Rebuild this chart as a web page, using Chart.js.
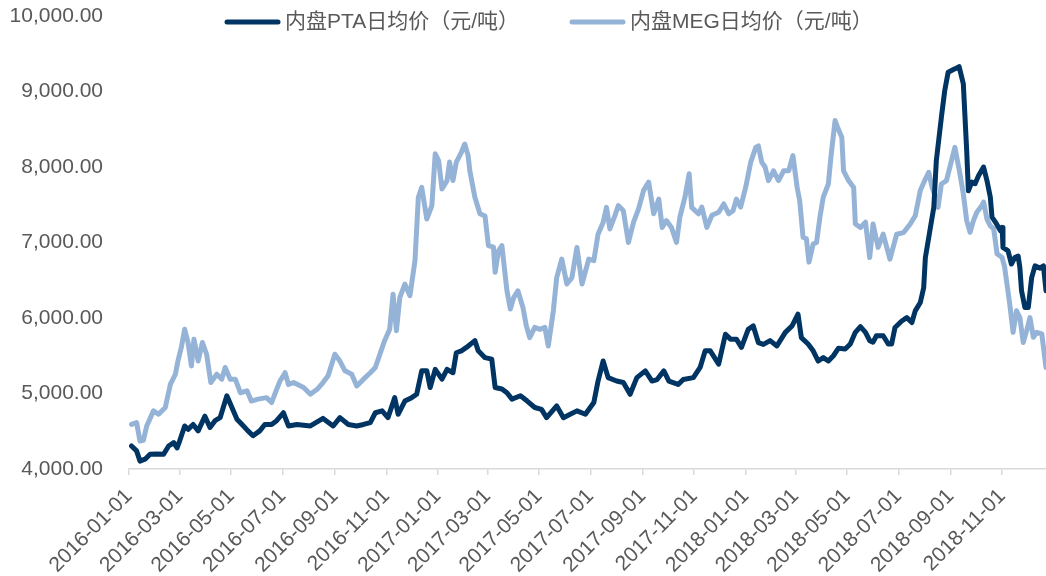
<!DOCTYPE html>
<html>
<head>
<meta charset="utf-8">
<script src="https://cdn.jsdelivr.net/npm/chart.js"></script>
<style>
  html, body { margin: 0; padding: 0; background: #fff; }
  #wrap { width: 1046px; height: 576px; }
</style>
</head>
<body>
<div id="wrap"><canvas id="priceChart" width="1046" height="576"></canvas></div>
<script>
// series names
const seriesNames = ["内盘PTA日均价（元/吨）", "内盘MEG日均价（元/吨）"];

// x tick labels (every 2 months)
const tickDates = ["2016-01-01", "2016-03-01", "2016-05-01", "2016-07-01", "2016-09-01", "2016-11-01",
    "2017-01-01", "2017-03-01", "2017-05-01", "2017-07-01", "2017-09-01", "2017-11-01",
    "2018-01-01", "2018-03-01", "2018-05-01", "2018-07-01", "2018-09-01", "2018-11-01"];
const yTicks = [4000, 5000, 6000, 7000, 8000, 9000, 10000];

// days since 2016-01-01 / price
const ptaDays = [3, 9, 13, 19, 25, 33, 41, 47, 53, 57, 60, 66, 70, 76, 82, 90, 96, 102, 108, 116,
    122, 128, 134, 141, 147, 155, 161, 169, 175, 183, 189, 199, 215, 230, 242, 250, 260, 270, 278, 286,
    292, 300, 307, 315, 319, 327, 335, 341, 347, 353, 357, 363, 371, 377, 384, 388, 394, 400, 410, 414,
    422, 430, 434, 442, 448, 454, 464, 472, 481, 489, 495, 507, 515, 523, 531, 541, 551, 556, 562, 568,
    578, 586, 594, 602, 612, 620, 626, 634, 640, 651, 657, 669, 677, 683, 689, 699, 707, 713, 720, 726,
    734, 740, 746, 752, 760, 768, 778, 786, 793, 797, 805, 811, 817, 823, 829, 835, 841, 849, 855, 861,
    867, 873, 878, 882, 886, 894, 900, 904, 908, 916, 922, 928, 932, 938, 942, 944, 950, 954, 957, 963,
    967, 971, 979, 984, 989, 993, 995, 999, 1003, 1007, 1013, 1017, 1021, 1023, 1027, 1033, 1035, 1036, 1042, 1046,
    1050, 1054, 1056, 1058, 1062, 1066, 1070, 1074, 1080, 1084, 1087];
const ptaValues = [4305, 4240, 4105, 4130, 4195, 4200, 4195, 4305, 4350, 4280, 4370, 4570, 4525, 4590, 4505, 4700, 4550, 4640, 4680, 4970,
    4815, 4660, 4590, 4505, 4440, 4505, 4590, 4590, 4640, 4745, 4570, 4590, 4570, 4670, 4570, 4680, 4590, 4570, 4590, 4615,
    4745, 4770, 4680, 4945, 4725, 4900, 4945, 4990, 5300, 5300, 5080, 5320, 5190, 5320, 5275, 5540, 5565, 5610, 5700, 5565,
    5475, 5455, 5080, 5060, 5010, 4925, 4970, 4900, 4815, 4790, 4680, 4835, 4680, 4725, 4770, 4725, 4880, 5165, 5430, 5210,
    5165, 5145, 4990, 5210, 5300, 5165, 5185, 5300, 5165, 5120, 5185, 5210, 5345, 5565, 5565, 5390, 5785, 5720, 5720, 5610,
    5850, 5895, 5675, 5650, 5700, 5630, 5810, 5895, 6050, 5740, 5655, 5565, 5430, 5475, 5430, 5500, 5600, 5590, 5655, 5810,
    5885, 5810, 5700, 5680, 5765, 5765, 5655, 5655, 5875, 5960, 6005, 5940, 6095, 6205, 6400, 6800, 7200, 7465, 8085, 8660,
    9015, 9255, 9300, 9330, 9100, 8215, 7685, 7800, 7780, 7885, 8000, 7820, 7600, 7335, 7270, 7155, 7200, 6935, 6890, 6715,
    6800, 6820, 6670, 6360, 6140, 6140, 6535, 6690, 6660, 6690, 6360];

const megDays = [3, 9, 13, 17, 21, 29, 35, 43, 49, 55, 58, 62, 66, 70, 74, 77, 82, 87, 92, 97,
    104, 110, 114, 120, 126, 132, 140, 145, 153, 163, 169, 175, 179, 185, 189, 195, 207, 215, 223, 230,
    236, 244, 250, 256, 264, 270, 278, 286, 292, 298, 303, 309, 313, 317, 321, 327, 333, 339, 343, 347,
    353, 359, 363, 367, 371, 377, 380, 384, 388, 394, 398, 402, 404, 410, 416, 422, 426, 432, 434, 438,
    442, 448, 452, 456, 461, 467, 471, 475, 481, 487, 493, 497, 503, 507, 513, 519, 525, 531, 537, 545,
    551, 556, 562, 566, 570, 576, 580, 586, 592, 598, 604, 610, 616, 622, 628, 632, 637, 643, 649, 653,
    659, 664, 667, 675, 679, 685, 691, 699, 705, 711, 716, 720, 725, 731, 737, 743, 746, 750, 754, 758,
    764, 770, 776, 782, 787, 792, 795, 799, 803, 806, 811, 815, 819, 823, 829, 832, 837, 840, 845, 847,
    853, 859, 861, 867, 873, 878, 882, 888, 894, 902, 910, 918, 926, 932, 938, 944, 948, 952, 956, 959,
    963, 969, 975, 979, 985, 989, 993, 997, 1001, 1005, 1011, 1013, 1017, 1021, 1025, 1029, 1035, 1038, 1044, 1048,
    1052, 1056, 1060, 1064, 1068, 1072, 1076, 1082, 1087];
const megValues = [4590, 4615, 4370, 4380, 4570, 4770, 4725, 4815, 5120, 5255, 5430, 5610, 5850, 5675, 5365, 5720, 5430, 5675, 5520, 5145,
    5255, 5190, 5345, 5190, 5190, 5010, 5035, 4900, 4925, 4945, 4880, 5055, 5165, 5275, 5120, 5145, 5080, 4990, 5055, 5145,
    5235, 5520, 5430, 5300, 5255, 5100, 5190, 5275, 5345, 5540, 5700, 5850, 6315, 5830, 6270, 6450, 6295, 6760, 7600, 7730,
    7310, 7490, 8175, 8085, 7710, 7820, 8065, 7820, 8065, 8195, 8305, 8150, 7950, 7600, 7380, 7350, 6960, 6940, 6605, 6890,
    6960, 6360, 6120, 6270, 6360, 6140, 5895, 5740, 5875, 5850, 5875, 5630, 6095, 6535, 6780, 6450, 6535, 6935, 6450, 6780,
    6760, 7110, 7265, 7465, 7180, 7355, 7490, 7420, 7000, 7265, 7445, 7690, 7800, 7380, 7575, 7200, 7290, 7200, 7000, 7335,
    7600, 7910, 7465, 7380, 7470, 7200, 7360, 7400, 7510, 7380, 7420, 7575, 7470, 7730, 8065, 8260, 8280, 8065, 8000, 7820,
    7950, 7820, 7950, 7950, 8150, 7730, 7555, 7070, 7050, 6740, 6980, 7000, 7335, 7600, 7775, 8130, 8615, 8525, 8390, 7950,
    7820, 7730, 7245, 7200, 7270, 6800, 7245, 6935, 7110, 6780, 7110, 7130, 7245, 7355, 7690, 7840, 7930, 7730, 7600, 7465,
    7775, 7820, 8085, 8260, 7910, 7645, 7290, 7135, 7290, 7400, 7490, 7535, 7310, 7220, 7180, 6850, 6800, 6670, 6185, 5810,
    6095, 6005, 5675, 5830, 6005, 5745, 5810, 5790, 5345];

const seriesColors = ["#003462", "#95b3d7"];
const textColor = "#595959";
const fontFamily = '"Liberation Sans", Arial, "Noto Sans CJK SC", sans-serif';

const dayMs = 86400000;
const origin = Date.UTC(2016, 0, 1);
const tickDays = tickDates.map(s => Math.round((Date.parse(s + "T00:00:00Z") - origin) / dayMs));

function toPoints(days, values) {
    return days.map((d, i) => ({ x: d, y: values[i] }));
}

// legend drawn over the top of the plot, like the original
const topLegend = {
    id: "topLegend",
    afterDraw(chart) {
        const ctx = chart.ctx;
        const starts = [225, 570];
        ctx.save();
        ctx.font = "21px " + fontFamily;
        ctx.textBaseline = "middle";
        chart.data.datasets.forEach((ds, i) => {
            const x = starts[i], y = 22;
            ctx.strokeStyle = ds.borderColor;
            ctx.lineWidth = 5;
            ctx.lineCap = "round";
            ctx.beginPath();
            ctx.moveTo(x + 2, y);
            ctx.lineTo(x + 53, y);
            ctx.stroke();
            ctx.fillStyle = textColor;
            ctx.fillText(ds.label, x + 60, y);
        });
        ctx.restore();
    }
};

const ctx = document.getElementById("priceChart").getContext("2d");
const priceChart = new Chart(ctx, {
    type: "line",
    data: {
        datasets: [
            { label: seriesNames[0], data: toPoints(ptaDays, ptaValues), borderColor: seriesColors[0] },
            { label: seriesNames[1], data: toPoints(megDays, megValues), borderColor: seriesColors[1] }
        ]
    },
    options: {
        responsive: false,
        animation: false,
        devicePixelRatio: 1,
        layout: { padding: { top: 16, right: 0, bottom: 0, left: 0 } },
        elements: {
            line: { borderWidth: 5, tension: 0, borderJoinStyle: "round", borderCapStyle: "round" },
            point: { radius: 0, hoverRadius: 0 }
        },
        plugins: { legend: { display: false }, tooltip: { enabled: false } },
        scales: {
            x: {
                type: "linear",
                min: 0,
                max: 1087,
                afterBuildTicks: axis => { axis.ticks = tickDays.map(v => ({ value: v })); },
                afterFit: axis => { axis.height = 107; axis.paddingLeft = 0; axis.paddingRight = 0; },
                ticks: {
                    autoSkip: false,
                    minRotation: 45,
                    maxRotation: 45,
                    padding: 9,
                    color: textColor,
                    font: { family: fontFamily, size: 21 },
                    callback: (v, i) => tickDates[i]
                },
                grid: { display: true, drawOnChartArea: false, drawTicks: true, tickLength: 6, color: "#d9d9d9", lineWidth: 1.5 },
                border: { display: true, color: "#d9d9d9", width: 1.5 }
            },
            y: {
                min: 4000,
                max: 10000,
                afterBuildTicks: axis => { axis.ticks = yTicks.map(v => ({ value: v })); },
                afterFit: axis => { axis.width = 129; axis.paddingTop = 0; axis.paddingBottom = 0; },
                ticks: {
                    padding: 26,
                    color: textColor,
                    font: { family: fontFamily, size: 21 },
                    callback: v => v.toLocaleString("en-US", { minimumFractionDigits: 2, maximumFractionDigits: 2 })
                },
                grid: { display: false, drawTicks: false },
                border: { display: false }
            }
        }
    },
    plugins: [topLegend]
});
</script>
</body>
</html>
